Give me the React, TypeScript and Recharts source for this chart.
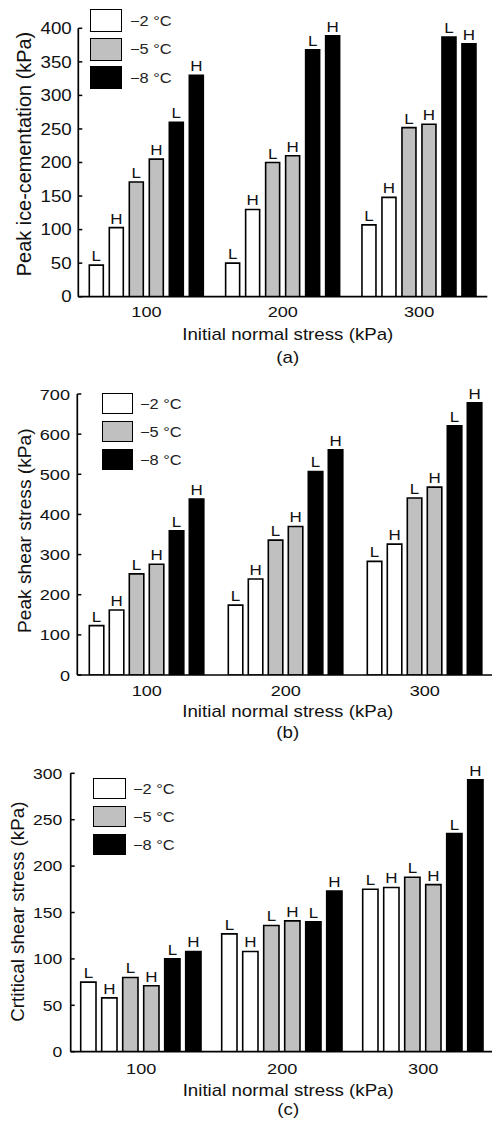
import React from 'react';
import { BarChart, Bar, XAxis, YAxis, Legend, LabelList } from 'recharts';

// ---------- data ----------
const categories = ['100', '200', '300'];
const seriesKeys = ['m2L', 'm2H', 'm5L', 'm5H', 'm8L', 'm8H'];
const seriesLetters = ['L', 'H', 'L', 'H', 'L', 'H'];
const seriesFills = ['#ffffff', '#ffffff', '#c0c0c0', '#c0c0c0', '#000000', '#000000'];
const legendLabels = ['−2 °C', '−5 °C', '−8 °C'];
const legendFills = ['#ffffff', '#c0c0c0', '#000000'];
const boundaryTicks = [1, 2];

// (a) Peak ice-cementation (kPa)
const iceM2L = [47, 50, 107];
const iceM2H = [103, 130, 148];
const iceM5L = [171, 200, 252];
const iceM5H = [205, 210, 257];
const iceM8L = [260, 368, 387];
const iceM8H = [330, 389, 377];
const iceTicks = [0, 50, 100, 150, 200, 250, 300, 350, 400];

// (b) Peak shear stress (kPa)
const peakM2L = [123, 174, 283];
const peakM2H = [162, 239, 326];
const peakM5L = [252, 336, 441];
const peakM5H = [276, 370, 468];
const peakM8L = [359, 507, 621];
const peakM8H = [438, 561, 678];
const peakTicks = [0, 100, 200, 300, 400, 500, 600, 700];

// (c) Critical shear stress (kPa)
const critM2L = [75, 127, 175];
const critM2H = [58, 108, 177];
const critM5L = [80, 136, 188];
const critM5H = [71, 141, 180];
const critM8L = [100, 140, 235];
const critM8H = [108, 173, 293];
const critTicks = [0, 50, 100, 150, 200, 250, 300];

const buildRows = (series: number[][]) =>
  categories.map((cat, i) => {
    const row: Record<string, any> = { cat };
    seriesKeys.forEach((k, j) => {
      row[k] = series[j][i];
    });
    return row;
  });

const iceData = buildRows([iceM2L, iceM2H, iceM5L, iceM5H, iceM8L, iceM8H]);
const peakData = buildRows([peakM2L, peakM2H, peakM5L, peakM5H, peakM8L, peakM8H]);
const critData = buildRows([critM2L, critM2H, critM5L, critM5H, critM8L, critM8H]);

// ---------- panel styling ----------
const SX = 1.17; // horizontal stretch of the lettering in the reference
const FONT = '"Liberation Sans", Arial, sans-serif';

const panels = [
  {
    data: iceData, ticks: iceTicks, domain: [0, 400],
    top: 0, width: 492, height: 372,
    margin: { top: 28.3, right: 4.7, bottom: 0, left: 0 },
    yWidth: 78.3, xHeight: 75.3, yTickMargin: 10.6, yTickFont: 16,
    xTickMargin: 9.5, barSize: 14, barGap: 6,
    yTitle: 'Peak ice-cementation (kPa)', yTitleX: 31, yTitleShift: -8.5, yTitleSize: 19.9,
    xTitleShift: 5, xTitleDy: 42.8, letterDy: 66.3, letter: '(a)',
    legend: { left: 90, top: 9, w: 32, h: 23, gap: 5.5, ml: 8 },
  },
  {
    data: peakData, ticks: peakTicks, domain: [0, 700],
    top: 372, width: 500, height: 373,
    margin: { top: 22, right: 5.7, bottom: 0, left: 0 },
    yWidth: 77.3, xHeight: 70, yTickMargin: 11.3, yTickFont: 15.5,
    xTickMargin: 10, barSize: 14.5, barGap: 5.5,
    yTitle: 'Peak shear stress (kPa)', yTitleX: 31, yTitleShift: -3.8, yTitleSize: 19.2,
    xTitleShift: 2, xTitleDy: 42.3, letterDy: 63, letter: '(b)',
    legend: { left: 102, top: 21, w: 31, h: 21, gap: 7, ml: 7 },
  },
  {
    data: critData, ticks: critTicks, domain: [0, 300],
    top: 745, width: 500, height: 386,
    margin: { top: 28.3, right: 6.3, bottom: 0, left: 0 },
    yWidth: 70.7, xHeight: 79.3, yTickMargin: 12.4, yTickFont: 15,
    xTickMargin: 11.5, barSize: 15.3, barGap: 5.7,
    yTitle: 'Crtitical shear stress (kPa)', yTitleX: 24.5, yTitleShift: -0.8, yTitleSize: 18.8,
    xTitleShift: 6, xTitleDy: 44, letterDy: 63, letter: '(c)',
    legend: { left: 93, top: 33, w: 33, h: 21, gap: 7, ml: 7 },
  },
];

function StretchText({ x, y, dy, anchor, size, children }: any) {
  return (
    <text transform={`translate(${x},${y}) scale(${SX},1)`} x={0} y={0} dy={dy}
      textAnchor={anchor} fontSize={size} fill="#111" fontFamily={FONT}>
      {children}
    </text>
  );
}

const EmptyTick = () => <g />;

const getVB = (p: any) => (p && p.viewBox) || p || { x: 0, y: 0, width: 0, height: 0 };

function Panel({ cfg }: { cfg: any }) {
  const XTick = (p: any) => (
    <StretchText x={p.x} y={p.y} dy="0.71em" anchor="middle" size={15.5}>
      {p.payload && p.payload.value}
    </StretchText>
  );
  const YTick = (p: any) => (
    <StretchText x={p.x} y={p.y} dy="0.355em" anchor="end" size={cfg.yTickFont}>
      {p.payload && p.payload.value}
    </StretchText>
  );
  const renderXTitle = (p: any) => {
    const vb = getVB(p);
    const cx = vb.x + vb.width / 2 + cfg.xTitleShift;
    return (
      <g>
        <StretchText x={cx} y={vb.y + cfg.xTitleDy} anchor="middle" size={16}>
          Initial normal stress (kPa)
        </StretchText>
        <StretchText x={cx} y={vb.y + cfg.letterDy} anchor="middle" size={16}>
          {cfg.letter}
        </StretchText>
      </g>
    );
  };
  const renderYTitle = (p: any) => {
    const vb = getVB(p);
    const x = vb.x + cfg.yTitleX;
    const y = vb.y + vb.height / 2 + cfg.yTitleShift;
    return (
      <text x={x} y={y} textAnchor="middle" fontSize={cfg.yTitleSize} fill="#111" fontFamily={FONT}
        transform={`rotate(-90, ${x}, ${y})`}>
        {cfg.yTitle}
      </text>
    );
  };
  const makeBarLabel = (letter: string) => (p: any) => {
    const vb = getVB(p);
    if (vb.x == null || vb.y == null) return null;
    return (
      <StretchText x={vb.x + vb.width / 2} y={vb.y - 4} anchor="middle" size={14.5}>
        {letter}
      </StretchText>
    );
  };
  const renderLegend = () => (
    <div style={{ display: 'flex', flexDirection: 'column', gap: cfg.legend.gap }}>
      {legendLabels.map((l, i) => (
        <div key={l} style={{ display: 'flex', alignItems: 'center', height: cfg.legend.h }}>
          <div style={{
            width: cfg.legend.w, height: cfg.legend.h, boxSizing: 'border-box',
            border: '1.7px solid #000', background: legendFills[i],
          }} />
          <span style={{
            marginLeft: cfg.legend.ml, fontSize: 14, color: '#222', whiteSpace: 'nowrap',
            fontFamily: FONT, display: 'inline-block', transform: `scaleX(${SX})`, transformOrigin: 'left center',
          }}>{l}</span>
        </div>
      ))}
    </div>
  );

  return (
    <div style={{ position: 'absolute', left: 0, top: cfg.top, width: cfg.width, height: cfg.height }}>
      <BarChart width={cfg.width} height={cfg.height} data={cfg.data} margin={cfg.margin}
        barSize={cfg.barSize} barGap={cfg.barGap}>
        <XAxis xAxisId="bound" type="number" domain={[0, 3]} ticks={boundaryTicks}
          axisLine={false} tickSize={-4} tick={EmptyTick} height={0} allowDataOverflow
          tickLine={{ stroke: '#000', strokeWidth: 1.5 }} />
        <XAxis xAxisId="cat" dataKey="cat" type="category" height={cfg.xHeight}
          tickLine={false} tickSize={0} tickMargin={cfg.xTickMargin}
          axisLine={{ stroke: '#000', strokeWidth: 1.7 }}
          tick={XTick}
          label={renderXTitle} />
        <YAxis type="number" domain={cfg.domain} ticks={cfg.ticks} width={cfg.yWidth}
          interval={0} allowDataOverflow
          tickSize={-4} tickMargin={cfg.yTickMargin}
          axisLine={{ stroke: '#000', strokeWidth: 1.7 }}
          tickLine={{ stroke: '#000', strokeWidth: 1.5 }}
          tick={YTick}
          label={renderYTitle} />
        <Legend layout="vertical" align="center" verticalAlign="middle" content={renderLegend}
          wrapperStyle={{ position: 'absolute', left: cfg.legend.left, top: cfg.legend.top, width: 'auto', height: 'auto', margin: 0, padding: 0 }} />
        {seriesKeys.map((k, i) => (
          <Bar key={k} dataKey={k} xAxisId="cat" fill={seriesFills[i]} stroke="#000" strokeWidth={1.6}
            isAnimationActive={false}>
            <LabelList dataKey={k} content={makeBarLabel(seriesLetters[i])} />
          </Bar>
        ))}
      </BarChart>
    </div>
  );
}

export default function App() {
  return (
    <div style={{
      position: 'absolute', left: 0, top: 0, width: 492, height: 1131, overflow: 'hidden',
      background: '#fff', fontFamily: FONT,
    }}>
      {panels.map((cfg) => (
        <Panel key={cfg.letter} cfg={cfg} />
      ))}
    </div>
  );
}
